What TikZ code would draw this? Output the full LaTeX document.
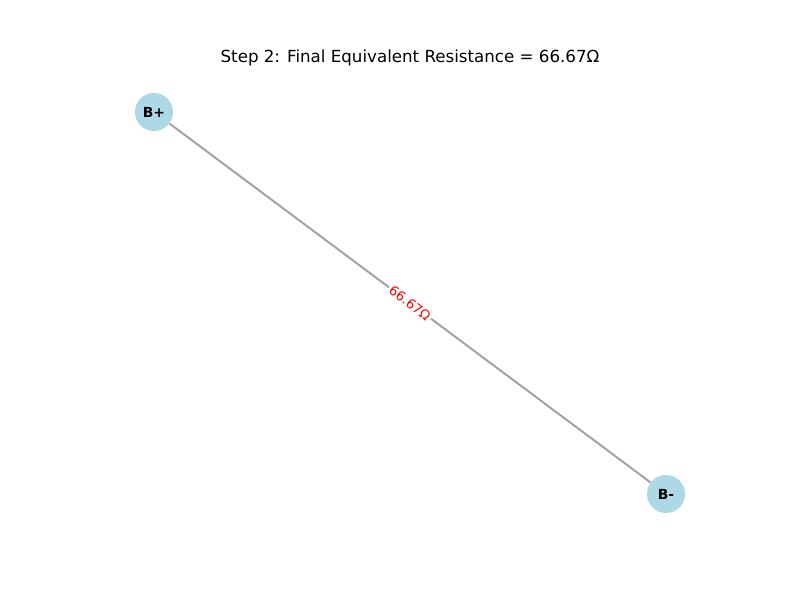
\documentclass[tikz,border=0pt]{standalone}
\usepackage{fontspec}
\setmainfont{DejaVu Sans}
\usetikzlibrary{positioning}
\definecolor{nodecolor}{RGB}{173,216,230}
\definecolor{edgecolor}{RGB}{163,163,163}

\begin{document}
\begin{tikzpicture}[x=0.72pt, y=-0.72pt,
    terminal/.style={circle, fill=nodecolor, minimum size=27.4pt, inner sep=0pt, font=\fontsize{10}{12}\selectfont\bfseries},
    wire/.style={draw=edgecolor, line width=1.44pt},
    reslabel/.style={fill=white, text=red, inner sep=1.5pt, font=\fontsize{9.5}{11}\selectfont}]
    \useasboundingbox (0,0) rectangle (800,600);
    \node (title) at (410,58) {\fontsize{12}{14}\selectfont Step 2: Final Equivalent Resistance = 66.67Ω};
    \node[terminal] (bplus) at (154,112) {B+};
    \node[terminal] (bminus) at (666,494) {B-};
    \draw[wire] (bplus) -- node[reslabel, sloped] {66.67Ω} (bminus);
\end{tikzpicture}
\end{document}
